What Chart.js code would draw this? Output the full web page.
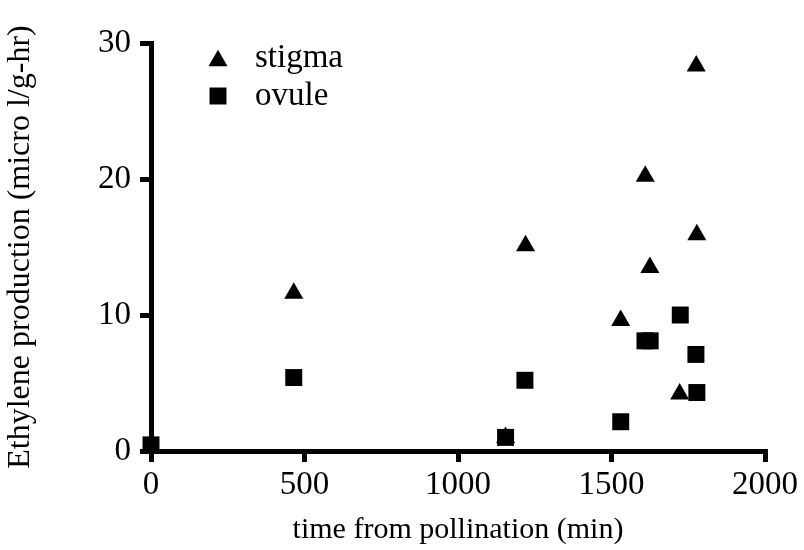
<!DOCTYPE html>
<html>
<head>
<meta charset="utf-8">
<script src="https://cdn.jsdelivr.net/npm/chart.js@4/dist/chart.umd.min.js"></script>
<style>
  html, body { margin: 0; padding: 0; background: #fff; }
  #wrap { width: 804px; height: 550px; }
</style>
</head>
<body>
<div id="wrap"><canvas id="chart"></canvas></div>
<script>
// time from pollination (min) and ethylene production (micro l/g-hr)
const stigmaTime = [0, 465, 1155, 1220, 1530, 1610, 1625, 1722, 1776, 1778];
const stigmaValue = [0.3, 11.6, 1.0, 15.1, 9.6, 20.2, 13.5, 4.2, 28.3, 15.9];
const ovuleTime = [0, 465, 1155, 1218, 1530, 1609, 1626, 1724, 1775, 1778];
const ovuleValue = [0.45, 5.4, 1.0, 5.2, 2.15, 8.1, 8.1, 10.0, 7.1, 4.3];

const xTicks = [0, 500, 1000, 1500, 2000];
const yTicks = [0, 10, 20, 30];

const font = "'Liberation Serif', 'Times New Roman', serif";

function toPoints(xs, ys) {
  return xs.map((x, i) => ({ x: x, y: ys[i] }));
}

// legend drawn inside the plot, top-left, like the original
const insideLegend = {
  id: "insideLegend",
  afterDatasetsDraw(chart) {
    const ctx = chart.ctx;
    const area = chart.chartArea;
    const markerX = area.left + 67;
    let rowY = area.top + 15;
    ctx.save();
    ctx.fillStyle = "#000";
    ctx.font = "33px " + font;
    ctx.textBaseline = "middle";
    chart.data.datasets.forEach((ds) => {
      Chart.helpers.drawPoint(
        ctx,
        { pointStyle: ds.pointStyle, radius: ds.pointRadius, rotation: 0, borderWidth: 0 },
        markerX,
        rowY + (ds.pointStyle === "triangle" ? ds.pointRadius / 4 : 0)
      );
      ctx.fillText(ds.label, markerX + 37, rowY);
      rowY += 38;
    });
    ctx.restore();
  },
};

new Chart(document.getElementById("chart"), {
  type: "scatter",
  data: {
    datasets: [
      {
        label: "stigma",
        data: toPoints(stigmaTime, stigmaValue),
        pointStyle: "triangle",
        pointRadius: 11,
        backgroundColor: "#000",
        borderColor: "#000",
        borderWidth: 0,
        order: 1,
        clip: false,
      },
      {
        label: "ovule",
        data: toPoints(ovuleTime, ovuleValue),
        pointStyle: "rect",
        pointRadius: 12,
        backgroundColor: "#000",
        borderColor: "#000",
        borderWidth: 0,
        order: 0,
        clip: false,
      },
    ],
  },
  options: {
    responsive: true,
    maintainAspectRatio: false,
    animation: false,
    layout: { padding: { top: 43, right: 39, left: 0, bottom: 0 } },
    plugins: {
      legend: { display: false },
      tooltip: { enabled: false },
    },
    scales: {
      x: {
        type: "linear",
        min: 0,
        max: 2000,
        afterBuildTicks: (scale) => {
          scale.ticks = xTicks.map((v) => ({ value: v }));
        },
        afterFit: (scale) => {
          scale.height = 99;
        },
        grid: {
          drawOnChartArea: false,
          drawTicks: true,
          tickLength: 11,
          lineWidth: 5,
          color: "#000",
        },
        border: { display: true, width: 5, color: "#000" },
        ticks: {
          color: "#000",
          padding: 4,
          maxRotation: 0,
          callback: (v) => String(v),
          font: { family: font, size: 33 },
        },
        title: {
          display: true,
          text: "time from pollination (min)",
          color: "#000",
          padding: { top: 0, bottom: 2 },
          font: { family: font, size: 30 },
        },
      },
      y: {
        type: "linear",
        min: 0,
        max: 30,
        afterBuildTicks: (scale) => {
          scale.ticks = yTicks.map((v) => ({ value: v }));
        },
        afterFit: (scale) => {
          scale.width = 151;
        },
        grid: {
          drawOnChartArea: false,
          drawTicks: true,
          tickLength: 11,
          lineWidth: 5,
          color: "#000",
        },
        border: { display: true, width: 5, color: "#000" },
        ticks: {
          color: "#000",
          padding: 9,
          callback: (v) => String(v),
          font: { family: font, size: 33 },
        },
        title: {
          display: true,
          text: "Ethylene production (micro l/g-hr)",
          color: "#000",
          padding: { top: 1, bottom: 0 },
          font: { family: font, size: 32 },
        },
      },
    },
  },
  plugins: [insideLegend],
});
</script>
</body>
</html>
